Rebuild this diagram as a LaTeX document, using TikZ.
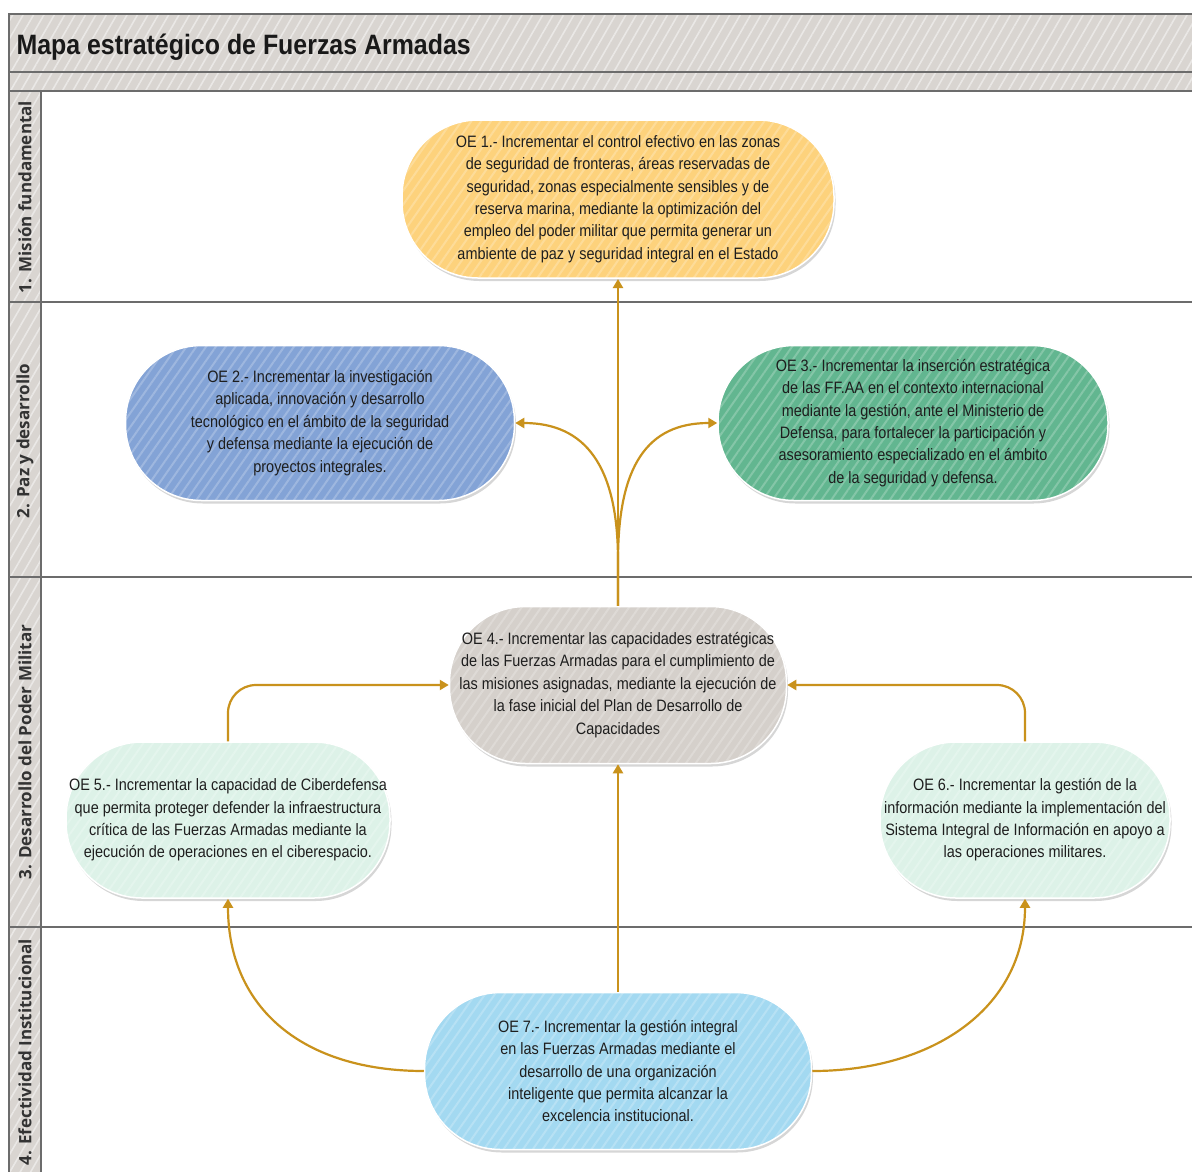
\documentclass[tikz,border=0pt]{standalone}
\usepackage{fontspec}
\setmainfont{Liberation Sans}
\newfontfamily\nodefont[FakeStretch=0.875]{Liberation Sans}
\newfontfamily\titlefont[FakeStretch=0.89]{Liberation Sans}
\newfontfamily\lanefont{Open Sans}
\usetikzlibrary{patterns.meta,shadows,arrows.meta}
\definecolor{cyel}{HTML}{FDD27C}
\definecolor{cblu}{HTML}{83A3D6}
\definecolor{cgrn}{HTML}{62B690}
\definecolor{cgry}{HTML}{D5D0CB}
\definecolor{cmint}{HTML}{DDF2E8}
\definecolor{csky}{HTML}{A3D9F1}
\definecolor{cband}{HTML}{D9D5D1}
\definecolor{cline}{HTML}{6C6C6C}
\definecolor{carr}{HTML}{C9921C}
\definecolor{ctext}{HTML}{1E1E1E}
\begin{document}
\begin{tikzpicture}[x=1pt,y=-1pt,
  band/.style={preaction={fill=cband},pattern={Lines[angle=60,distance=9pt,line width=1.6pt]},pattern color=cband!55!white},
  lane/.style={line width=2.6pt,draw=cline},
  oe/.style={draw=white,line width=1.5pt,
    drop shadow={shadow xshift=1.5pt,shadow yshift=-3pt,opacity=0.16,fill=black},
    preaction={fill=#1},
    pattern={Lines[angle=55,distance=8pt,line width=2pt]},pattern color=#1!78!white,
    rounded corners=76pt, align=center, inner sep=0pt, text=ctext,
    font=\nodefont\fontsize{16.5}{22.4}\selectfont},
  lanelabel/.style={rotate=90,font=\lanefont\bfseries\fontsize{17}{18}\selectfont,text=black!80},
  arr/.style={draw=carr,line width=2.2pt,-{Triangle[length=9pt,width=10pt]}}
]
\useasboundingbox (0,0) rectangle (1192,1171);
\fill[white] (0,0) rectangle (1192,1171);
% bands
\path[band] (9,14) rectangle (1194,91);
\path[band] (9,91) rectangle (41,1173);
% frame lines
\draw[lane] (1194,14) -- (9,14) -- (9,1173);
\draw[lane] (9,72) -- (1194,72);
\draw[lane] (9,91) -- (1194,91);
\draw[lane] (41,91) -- (41,1173);
\draw[lane] (9,302) -- (1194,302);
\draw[lane] (9,577) -- (1194,577);
\draw[lane] (9,927) -- (1194,927);
% title
\node[anchor=base west,font=\titlefont\bfseries\fontsize{28}{30}\selectfont,text=black!90] (title) at (13,54) {Mapa estratégico de Fuerzas Armadas};
% lane labels
\node[lanelabel] (l1) at (25,197) {1. Misión fundamental};
\node[lanelabel] (l2) at (25,441) {2. Paz y desarrollo};
\node[lanelabel] (l3) at (25,752) {3. Desarrollo del Poder Militar};
\node[lanelabel] (l4) at (25,1052) {4. Efectividad Institucional};
% nodes
\node[oe=cyel,minimum width=432pt,minimum height=158pt] (oe1) at (618,199) {OE 1.- Incrementar el control efectivo en las zonas\\de seguridad de fronteras, áreas reservadas de\\seguridad, zonas especialmente sensibles y de\\reserva marina, mediante la optimización del\\empleo del poder militar que permita generar un\\ambiente de paz y seguridad integral en el Estado};
\node[oe=cblu,minimum width=389pt,minimum height=155pt] (oe2) at (320,423) {OE 2.- Incrementar la investigación\\aplicada, innovación y desarrollo\\tecnológico en el ámbito de la seguridad\\y defensa mediante la ejecución de\\proyectos integrales.};
\node[oe=cgrn,minimum width=390pt,minimum height=155pt] (oe3) at (913,423) {OE 3.- Incrementar la inserción estratégica\\de las FF.AA en el contexto internacional\\mediante la gestión, ante el Ministerio de\\Defensa, para fortalecer la participación y\\asesoramiento especializado en el ámbito\\de la seguridad y defensa.};
\node[oe=cgry,minimum width=337pt,minimum height=157pt] (oe4) at (618,685) {OE 4.- Incrementar las capacidades estratégicas\\de las Fuerzas Armadas para el cumplimiento de\\las misiones asignadas, mediante la ejecución de\\la fase inicial del Plan de Desarrollo de\\Capacidades};
\node[oe=cmint,minimum width=324pt,minimum height=156pt] (oe5) at (228,820) {OE 5.- Incrementar la capacidad de Ciberdefensa\\que permita proteger defender la infraestructura\\crítica de las Fuerzas Armadas mediante la\\ejecución de operaciones en el ciberespacio.};
\node[oe=cmint,minimum width=290pt,minimum height=156pt] (oe6) at (1025,820) {OE 6.- Incrementar la gestión de la\\información mediante la implementación del\\Sistema Integral de Información en apoyo a\\las operaciones militares.};
\node[oe=csky,minimum width=387pt,minimum height=157pt] (oe7) at (618,1071) {OE 7.- Incrementar la gestión integral\\en las Fuerzas Armadas mediante el\\desarrollo de una organización\\inteligente que permita alcanzar la\\excelencia institucional.};
% connectors
\draw[arr] (oe4.north) -- (oe1.south);
\draw[arr] (oe4.north) -- ++(0,-45) .. controls +(0,-95) and +(70,0) .. (oe2.east);
\draw[arr] (oe4.north) -- ++(0,-45) .. controls +(0,-95) and +(-70,0) .. (oe3.west);
\draw[arr,rounded corners=28pt] (oe5.north) |- (oe4.west);
\draw[arr,rounded corners=28pt] (oe6.north) |- (oe4.east);
\draw[arr] (oe7.north) -- (oe4.south);
\draw[arr] (oe7.west) .. controls +(-120,0) and +(0,110) .. (oe5.south);
\draw[arr] (oe7.east) .. controls +(120,0) and +(0,110) .. (oe6.south);
\end{tikzpicture}
\end{document}
